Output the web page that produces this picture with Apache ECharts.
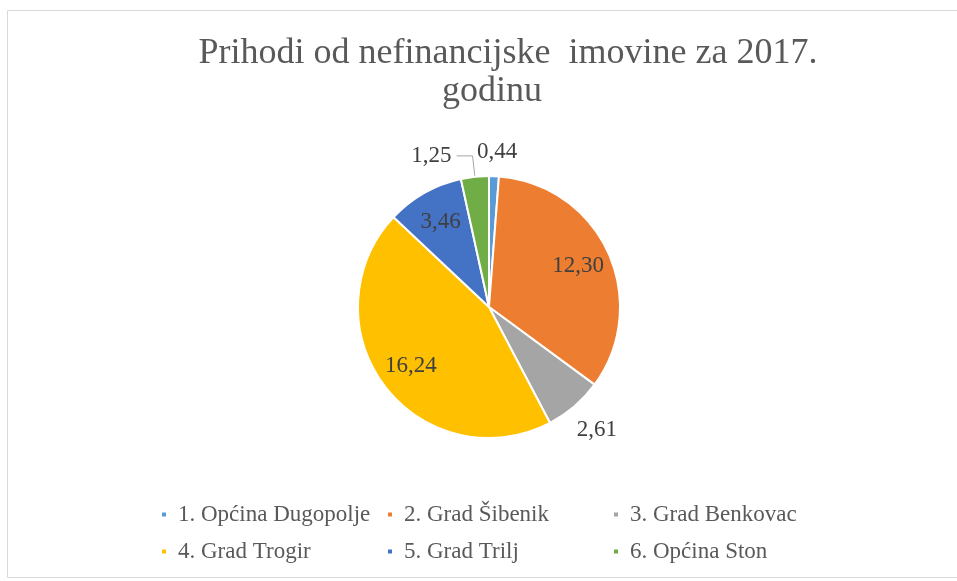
<!DOCTYPE html>
<html>
<head>
<meta charset="utf-8">
<script src="https://cdn.jsdelivr.net/npm/echarts@6/dist/echarts.min.js"></script>
<style>
  html, body { margin: 0; padding: 0; background: #fff; }
  #chart { width: 957px; height: 581px; }
</style>
</head>
<body>
<div id="chart"></div>
<script>
// podaci s grafikona
const categories = ['1. Općina Dugopolje', '2. Grad Šibenik', '3. Grad Benkovac', '4. Grad Trogir', '5. Grad Trilj', '6. Općina Ston'];
const values = [0.44, 12.30, 2.61, 16.24, 3.46, 1.25];
const colors = ['#5B9BD5', '#ED7D31', '#A5A5A5', '#FFC000', '#4472C4', '#70AD47'];

const titleLine1 = 'Prihodi od nefinancijske  imovine za 2017.';
const titleLine2 = 'godinu';

// koje oznake idu unutar kriške, a koje izvan
const insideLabel = [false, true, false, true, true, false];
// postavke vanjskih oznaka (samo stil)
const outsideLabel = {
    0: { line: false, length: 24, length2: 0, dist: -18 },
    2: { line: false, length: 31, length2: 0, dist: -18 },
    5: { line: true, length: 21, length2: 16, dist: 5 }
};

const FONT = 'Liberation Serif';
const fmt = v => v.toFixed(2).replace('.', ',');

const center = [489, 307];
const R = 131;

const mainData = categories.map((name, i) => {
    const o = outsideLabel[i];
    return {
        name,
        value: values[i],
        itemStyle: { color: colors[i] },
        label: o ? { show: true, distanceToLabelLine: o.dist } : { show: false },
        labelLine: o ? { show: o.line, length: o.length, length2: o.length2 } : { show: false }
    };
});

const overlayData = categories.map((name, i) => ({
    name,
    value: values[i],
    label: { show: insideLabel[i] }
}));

const chart = echarts.init(document.getElementById('chart'), null, { renderer: 'canvas' });

chart.setOption({
    backgroundColor: '#ffffff',
    animation: false,
    title: [
        {
            text: titleLine1,
            left: 503,
            top: 29,
            textAlign: 'center',
            textStyle: { fontFamily: FONT, fontSize: 36, fontWeight: 'normal', color: '#595959', lineHeight: 40 }
        },
        {
            text: titleLine2,
            left: 487,
            top: 67,
            textAlign: 'center',
            textStyle: { fontFamily: FONT, fontSize: 36, fontWeight: 'normal', color: '#595959', lineHeight: 40 }
        }
    ],
    legend: {
        data: categories,
        left: 160,
        top: 496,
        width: 690,
        orient: 'horizontal',
        icon: 'rect',
        itemWidth: 6,
        itemHeight: 6,
        itemGap: 0,
        padding: 0,
        selectedMode: false,
        textStyle: { fontFamily: FONT, fontSize: 23, color: '#595959', width: 208, padding: [0, 0, 0, 6], lineHeight: 37 }
    },
    graphic: [{
        type: 'rect',
        silent: true,
        shape: { x: 7.5, y: 10.5, width: 980, height: 567 },
        style: { fill: 'none', stroke: '#d9d9d9', lineWidth: 1 }
    }],
    series: [
        {
            type: 'pie',
            center: center,
            radius: [0, R],
            startAngle: 90,
            clockwise: true,
            avoidLabelOverlap: false,
            silent: true,
            itemStyle: { borderColor: '#ffffff', borderWidth: 2 },
            label: {
                position: 'outside',
                fontFamily: FONT,
                fontSize: 23,
                color: '#404040',
                formatter: p => fmt(p.value)
            },
            labelLine: { lineStyle: { color: '#a6a6a6', width: 1 }, smooth: false },
            data: mainData
        },
        {
            type: 'pie',
            center: center,
            radius: [64, 126],
            startAngle: 90,
            clockwise: true,
            silent: true,
            avoidLabelOverlap: false,
            itemStyle: { color: 'rgba(0,0,0,0)', borderWidth: 0 },
            label: {
                position: 'inside',
                fontFamily: FONT,
                fontSize: 23,
                color: '#404040',
                formatter: p => fmt(p.value)
            },
            labelLine: { show: false },
            data: overlayData
        }
    ]
});
</script>
</body>
</html>
